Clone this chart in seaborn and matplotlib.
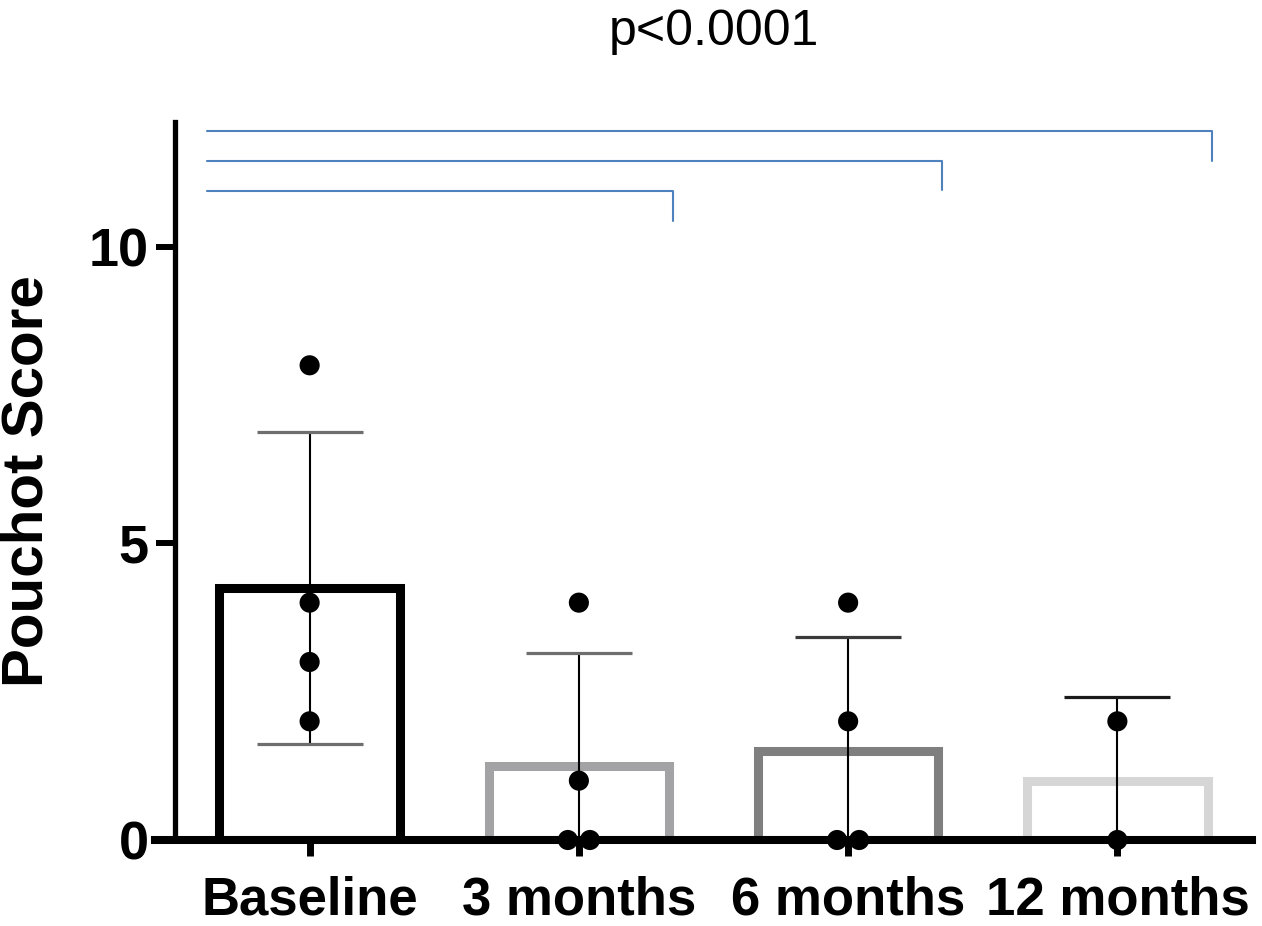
import numpy as np
import pandas as pd
import matplotlib
matplotlib.use("Agg")
import matplotlib.pyplot as plt
import seaborn as sns

# ---- data ----
groups = ["Baseline", "3 months", "6 months", "12 months"]
baseline = [8, 4, 3, 2]
month3 = [4, 1, 0, 0]
month6 = [4, 2, 0, 0]
month12 = [2, 0]
title_text = "p<0.0001"
ylabel_text = "Pouchot Score"
yticks = [0, 5, 10]
comparisons = [(0, 1), (0, 2), (0, 3)]

# ---- styles ----
edge_colors = ["#000000", "#a3a3a5", "#7f7f7f", "#d6d6d6"]
cap_colors = ["#6e6e6e", "#6e6e6e", "#3a3a3a", "#1a1a1a"]
bracket_color = "#4f81bd"

sns.set_theme(style="white")
plt.rcParams["font.family"] = ["Liberation Sans", "DejaVu Sans"]
plt.rcParams["text.color"] = "black"
plt.rcParams["axes.labelcolor"] = "black"
plt.rcParams["xtick.color"] = "black"
plt.rcParams["ytick.color"] = "black"

values = [baseline, month3, month6, month12]
df = pd.DataFrame({
    "group": np.concatenate([[g] * len(v) for g, v in zip(groups, values)]),
    "score": np.concatenate(values).astype(float),
})

fig = plt.figure(figsize=(12.62, 9.26), dpi=100)
ax = fig.add_axes([175 / 1262, 1 - 840 / 926, (1252 - 175) / 1262, (840 - 122) / 926])

sns.barplot(data=df, x="group", y="score", order=groups, hue="group",
            hue_order=groups, palette=edge_colors, fill=False, errorbar=None,
            width=0.67, linewidth=6.5, legend=False, ax=ax)
for p in ax.patches:
    p.set_zorder(1)

# error bars (mean +/- SD) derived from the data
stats = df.groupby("group")["score"].agg(["mean", "std"]).reindex(groups)
for i, g in enumerate(groups):
    _, caps, bars = ax.errorbar([i], [stats.loc[g, "mean"]], yerr=[stats.loc[g, "std"]],
                                fmt="none", ecolor="black", elinewidth=1.5,
                                capsize=38, capthick=2.3, zorder=3)
    for c in caps:
        c.set_color(cap_colors[i])
        c.set_markeredgecolor(cap_colors[i])
        c.set_markerfacecolor(cap_colors[i])

# individual points, with duplicates spread symmetrically
pos_map = {g: i for i, g in enumerate(groups)}
xs = []
for g, v in zip(groups, values):
    arr = np.array(v)
    offs = np.zeros(len(arr))
    for val in np.unique(arr):
        idx = np.where(arr == val)[0]
        k = len(idx)
        offs[idx] = (np.arange(k) - (k - 1) / 2) * 0.082
    xs.extend(pos_map[g] + offs)
df["xpos"] = xs
sns.scatterplot(data=df, x="xpos", y="score", color="black", s=210,
                edgecolor="none", ax=ax, zorder=5, clip_on=False, legend=False)

ax.set_xlim(-0.5, 3.5)
ax.set_ylim(0, 12.1)
ax.set_xticks(range(len(groups)))
ax.set_xticklabels(groups, fontsize=38, fontweight="bold", color="black")
ax.set_yticks(yticks)
ax.set_yticklabels([str(t) for t in yticks], fontsize=39, fontweight="bold", color="black")
ax.set_xlabel("")
ax.set_ylabel(ylabel_text, fontsize=42, fontweight="bold", color="black")
ax.yaxis.set_label_coords(-0.112, 0.5)

for s in ["top", "right"]:
    ax.spines[s].set_visible(False)
ax.spines["left"].set_linewidth(3.8)
ax.spines["left"].set_color("black")
ax.spines["bottom"].set_linewidth(5.8)
ax.spines["bottom"].set_color("black")
ax.spines["bottom"].set_bounds(-0.5 - 20 / 269, 3.5)
ax.spines["bottom"].set_zorder(2.5)

ax.tick_params(axis="x", length=11.5, width=5, color="black", pad=14, bottom=True)
ax.tick_params(axis="y", length=14, width=4.3, color="black", pad=5, left=True)

# significance brackets
y_levels = [10.94, 11.45, 11.95]
for (a, b), yl in zip(comparisons, y_levels):
    ax.plot([a - 0.38, b + 0.35, b + 0.35], [yl, yl, yl - 0.5],
            color=bracket_color, lw=1.5, clip_on=False, zorder=4)

fig.text(713.5 / 1262, 1 - 45 / 926, title_text, fontsize=36, ha="center",
         va="baseline", color="black")

fig.savefig("out.png", dpi=100, facecolor="white")
